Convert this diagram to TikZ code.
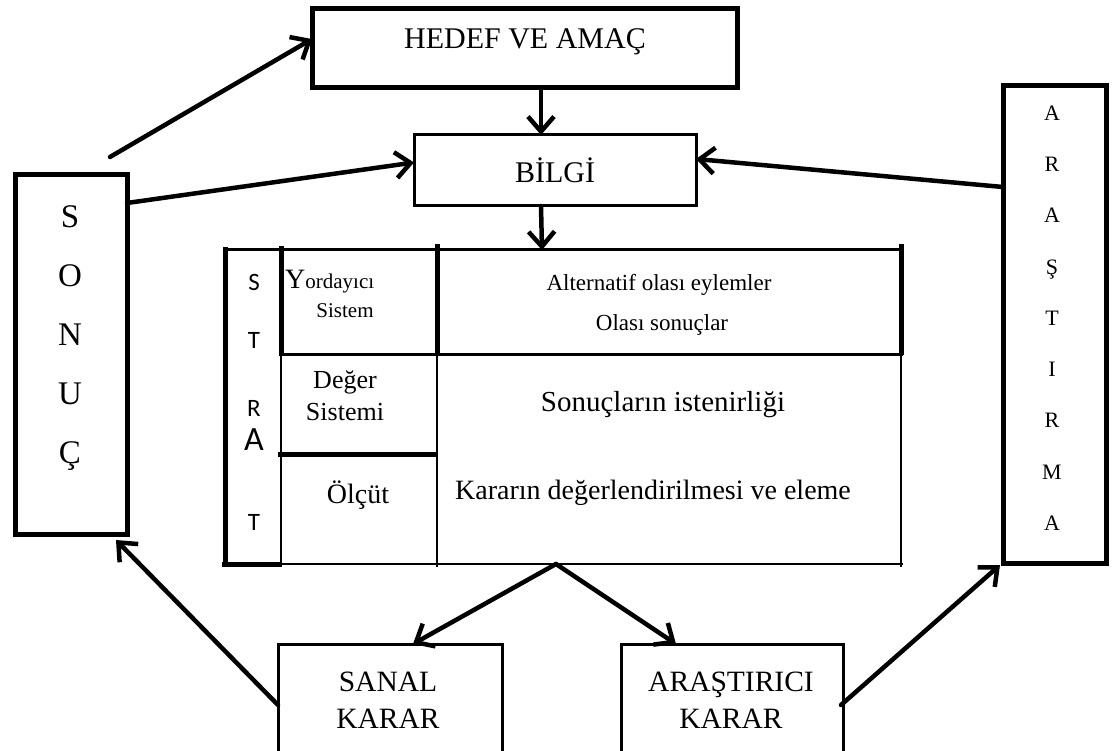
\documentclass[tikz,border=0pt]{standalone}
\usepackage{fontspec}
\setmainfont{Liberation Serif}
\newfontfamily\calib{Carlito}
\usetikzlibrary{arrows.meta,calc}
\tikzset{
  box/.style={draw, inner sep=0pt, outer sep=0pt},
  arr/.style={line width=4.5pt, line cap=round,
    -{Straight Barb[length=15pt,width=26pt,line width=4.5pt]}},
  thickln/.style={line width=5pt},
  medln/.style={line width=3pt},
  thinln/.style={line width=1.6pt},
  big/.style={font=\fontsize{30}{31}\selectfont, inner sep=0pt},
  mid/.style={font=\fontsize{26}{28}\selectfont, inner sep=0pt},
  small/.style={font=\fontsize{23}{25}\selectfont, inner sep=0pt},
  strat/.style={font=\calib\fontsize{25}{25}\selectfont, inner sep=0pt},
}
\begin{document}
\begin{tikzpicture}[x=1pt,y=-1pt]
\clip (0,0) rectangle (1112,751);
\fill[white] (0,0) rectangle (1112,751);

% boxes
\node[box, line width=5pt, minimum width=425pt, minimum height=79pt] (hedef) at (524.5,48.5) {};
\node[big] (hedeft) at (525,42) {HEDEF VE AMAÇ};
\node[box, line width=3pt, minimum width=282pt, minimum height=71pt, big] (bilgi) at (555,170.5) {BİLGİ};
\node[box, line width=5pt, minimum width=112pt, minimum height=359pt] (sonuc) at (71,354.5) {};
\node[font=\fontsize{33}{59}\selectfont, align=center, inner sep=0pt] (sonuct) at (70,338) {S\\O\\N\\U\\Ç};
\node[box, line width=5pt, minimum width=103pt, minimum height=477pt] (arastirma) at (1054.5,324.5) {};
\node[font=\fontsize{22}{51.25}\selectfont, align=center, inner sep=0pt] (arastirmat) at (1052,318) {A\\R\\A\\Ş\\T\\I\\R\\M\\A};
\node[box, line width=3pt, minimum width=224pt, minimum height=130pt] (sanal) at (390,709) {};
\node[align=center, inner sep=0pt, font=\fontsize{29.5}{37}\selectfont] (sanalt) at (388,700) {SANAL\\KARAR};
\node[box, line width=3pt, minimum width=222pt, minimum height=130pt] (arastirici) at (732,709) {};
\node[align=center, inner sep=0pt, font=\fontsize{29.5}{37}\selectfont] (arastiricit) at (731,700) {ARAŞTIRICI\\KARAR};

% table
\draw[thickln] (225,247) -- (225,567);
\draw[medln] (223,250) -- (903,250);
\draw[thickln] (281,246) -- (281,355);
\draw[thinln] (281,355) -- (281,567);
\draw[thickln] (437,244) -- (437,355);
\draw[thinln] (437,355) -- (437,567);
\draw[thickln] (901,244) -- (901,355);
\draw[thinln] (901,355) -- (901,567);
\draw[medln] (279,355) -- (903,355);
\draw[thickln] (278,454) -- (437,454);
\draw[thickln] (222,564) -- (281,564);
\draw[thinln] (281,564) -- (903,564);
\coordinate (tabtop) at (542,250);
\coordinate (tabbot) at (556,564);

\node[strat] (s1) at (254,282) {S};
\node[strat] (s2) at (254,340) {T};
\node[strat] (s3) at (254,408) {R};
\node[strat, font=\calib\fontsize{34}{34}\selectfont] (s4) at (254,440) {A};
\node[strat] (s5) at (254,522) {T};

\node[anchor=base west, inner sep=0pt] (yord) at (285,289) {{\fontsize{28}{28}\selectfont Y}{\fontsize{21}{21}\selectfont ordayıcı}};
\node[inner sep=0pt, font=\fontsize{21}{21}\selectfont] (sist) at (345,311) {Sistem};
\node[mid] (deger) at (345,382) {Değer};
\node[mid] (sistemi) at (345,412) {Sistemi};
\node[font=\fontsize{28}{30}\selectfont, inner sep=0pt] (olcut) at (358,495) {Ölçüt};
\node[small] (alt) at (659,285) {Alternatif olası eylemler};
\node[small] (olasi) at (662,325) {Olası sonuçlar};
\node[font=\fontsize{29}{31}\selectfont, inner sep=0pt] (istenir) at (663,405) {Sonuçların istenirliği};
\node[font=\fontsize{28}{30}\selectfont, inner sep=0pt] (karar) at (653,493) {Kararın değerlendirilmesi ve eleme};

% arrows
\coordinate (c541) at (541,0);
\coordinate (sonstart) at (110,157);
\draw[arr] (hedef.south -| c541) -- (bilgi.north -| c541);
\draw[arr] (bilgi.south -| c541) -- (tabtop);
\draw[arr] (sonstart) -- ($(hedef.north west)!0.38!(hedef.south west)$);
\draw[arr] ($(sonuc.north east)+(0,28)$) -- ($(bilgi.west)+(0,-8)$);
\draw[arr] ($(arastirma.west)+(0,-137.5)$) -- ($(bilgi.east)+(0,-11.5)$);
\draw[arr] (tabbot) -- ($(sanal.north)+(23,0)$);
\draw[arr] (tabbot) -- ($(arastirici.north)+(-56,0)$);
\draw[arr] ($(sanal.west)+(0,-4)$) -- ($(sonuc.south east)+(-11,6)$);
\draw[arr] ($(arastirici.east)+(-2,-4)$) -- ($(arastirma.south west)+(-3,2)$);
\end{tikzpicture}
\end{document}
